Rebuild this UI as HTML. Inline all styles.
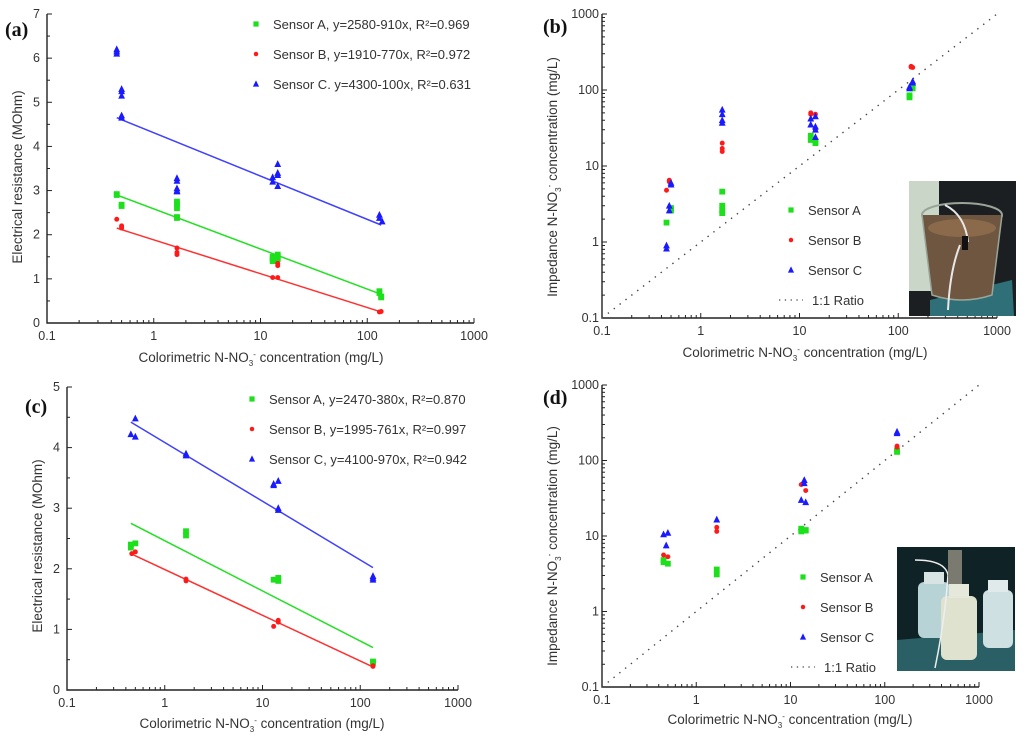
<!DOCTYPE html>
<html><head><meta charset="utf-8"><style>
body{margin:0;background:#fff;width:1024px;height:739px;overflow:hidden}
svg{display:block;font-family:"Liberation Sans",Arial,sans-serif}
</style></head><body>
<svg id="fig" width="1024" height="739" viewBox="0 0 1024 739" xmlns="http://www.w3.org/2000/svg">
 <g id="insets">
  <g>
   <rect x="909" y="181" width="107" height="135" fill="#1c1f22"/>
   <rect x="909" y="181" width="30" height="110" fill="#c9d6c8"/>
   <polygon points="930,300 1012,280 1014,316 930,316" fill="#2e6f78"/>
   <ellipse cx="962" cy="215" rx="40" ry="12" fill="none" stroke="#9aa59a" stroke-width="2"/>
   <path d="M922,215 L932,295 Q962,305 992,295 L1002,215" fill="#6e5640" stroke="#9aa59a" stroke-width="1.5"/>
   <ellipse cx="962" cy="228" rx="34" ry="9" fill="#8a6a4a"/>
   <path d="M945,205 Q965,215 968,242 M960,245 Q950,270 948,310" stroke="#e8e8e8" stroke-width="2" fill="none"/>
   <rect x="962" y="236" width="6" height="14" fill="#111"/>
  </g>
  <g>
   <rect x="897" y="547" width="118" height="124" fill="#0f2226"/>
   <polygon points="897,640 1015,630 1015,671 897,671" fill="#2a5f66"/>
   <rect x="918" y="582" width="32" height="56" rx="6" fill="#b7d3d6"/>
   <rect x="924" y="572" width="20" height="12" fill="#d8e4e4"/>
   <rect x="941" y="596" width="36" height="64" rx="6" fill="#dfe2cf"/>
   <rect x="949" y="584" width="20" height="14" fill="#e6e8dc"/>
   <rect x="983" y="590" width="30" height="58" rx="6" fill="#cfe0e2"/>
   <rect x="988" y="580" width="20" height="12" fill="#e0eaea"/>
   <path d="M915,560 Q945,560 948,575 Q945,620 935,668" stroke="#eee" stroke-width="1.5" fill="none"/>
   <rect x="948" y="550" width="14" height="34" fill="#7a7a70"/>
  </g>
 </g>
</svg>
<script>
// ---------- Panel (a) data ----------
const aAx=[0.45,0.45,0.5,0.5,1.65,1.65,1.65,1.65,1.65,13,13,13,14.5,14.5,14.5,130,130,135,135];
const aAy=[2.9,2.92,2.65,2.68,2.75,2.7,2.6,2.4,2.38,1.5,1.45,1.4,1.55,1.5,1.45,0.72,0.68,0.6,0.58];
const aBx=[0.45,0.5,0.5,0.5,1.65,1.65,1.65,13,14.5,14.5,14.5,130,135];
const aBy=[2.35,2.2,2.15,2.18,1.7,1.6,1.55,1.03,1.3,1.35,1.03,0.25,0.26];
const aCx=[0.45,0.45,0.45,0.5,0.5,0.5,0.5,0.5,1.65,1.65,1.65,1.65,1.65,13,13,14.5,14.5,14.5,14.5,130,130,138];
const aCy=[6.2,6.15,6.1,5.3,5.25,5.15,4.7,4.65,3.28,3.22,3.05,3.0,2.98,3.3,3.2,3.6,3.4,3.35,3.1,2.45,2.38,2.3];
const aFitX=[0.45,135];
const aFitA=[2.9,0.65];
const aFitB=[2.15,0.25];
const aFitC=[4.65,2.22];
const aLegend=["Sensor A, y=2580-910x, R²=0.969","Sensor B, y=1910-770x, R²=0.972","Sensor C. y=4300-100x, R²=0.631"];
const aYTicks=[0,1,2,3,4,5,6,7];
// ---------- Panel (b) data ----------
const bAx=[0.45,0.5,0.5,1.65,1.65,1.65,1.65,13,13,14.5,14.5,130,130,140];
const bAy=[1.8,2.8,2.6,4.6,3.0,2.6,2.4,25,22,21,20,85,80,105];
const bBx=[0.45,0.48,0.48,1.65,1.65,1.65,13,13,14.5,14.5,135,135,140];
const bBy=[4.8,6.5,6.2,20,17,15.5,50,48,48,30,205,200,198];
const bCx=[0.45,0.45,0.48,0.48,0.5,0.5,1.65,1.65,1.65,1.65,13,13,14.5,14.5,14.5,14.5,130,130,140,140];
const bCy=[0.9,0.82,3.0,2.6,6.0,5.7,55,48,40,37,42,35,33,30,24,45,110,105,130,125];
// ---------- Panel (c) data ----------
const cAx=[0.45,0.45,0.5,1.65,1.65,13,14.5,14.5,135,135];
const cAy=[2.35,2.4,2.42,2.62,2.55,1.82,1.85,1.8,0.45,0.47];
const cBx=[0.46,0.5,1.65,1.65,13,14.5,14.5,135,135];
const cBy=[2.25,2.28,1.83,1.8,1.05,1.15,1.12,0.4,0.39];
const cCx=[0.45,0.5,0.5,1.65,1.65,13,13,14.5,14.5,14.5,135,135,135];
const cCy=[4.22,4.48,4.18,3.9,3.87,3.4,3.38,3.45,3.0,2.97,1.88,1.82,1.85];
const cFitX=[0.45,135];
const cFitA=[2.75,0.7];
const cFitB=[2.25,0.38];
const cFitC=[4.42,2.02];
const cLegend=["Sensor A, y=2470-380x, R²=0.870","Sensor B, y=1995-761x, R²=0.997","Sensor C, y=4100-970x, R²=0.942"];
const cYTicks=[0,1,2,3,4,5];
// ---------- Panel (d) data ----------
const dAx=[0.45,0.45,0.5,1.65,1.65,13,13,14.5,14.5,135,135];
const dAy=[4.8,4.5,4.3,3.6,3.1,12.5,11.5,12,11.8,135,130];
const dBx=[0.45,0.5,1.65,1.65,13,14.5,135,135];
const dBy=[5.6,5.3,13,11.5,48,40,155,150];
const dCx=[0.45,0.48,0.5,1.65,13,14,14,14.5,135,135];
const dCy=[10.5,7.5,11,16.5,30,55,50,28,240,230];
// shared
const xDecades=[0.1,1,10,100,1000];
const xTickLabels=["0.1","1","10","100","1000"];
const ratioLine=[0.1,1000];
const logLegend=["Sensor A","Sensor B","Sensor C","1:1 Ratio"];

const NS="http://www.w3.org/2000/svg";
const svg=document.getElementById('fig');
const COL={A:"#1de01d",B:"#ff1a1a",C:"#1a1aff"};
function mk(tag,attrs,parent){const e=document.createElementNS(NS,tag);for(const k in attrs)e.setAttribute(k,attrs[k]);(parent||svg).appendChild(e);return e;}
function txt(s,attrs,parent){const e=mk('text',attrs,parent);e.textContent=s;return e;}
function marker(g,type,x,y,s){
 let e;
 if(type==='A'){e=mk('rect',{x:x-s,y:y-s,width:2*s,height:2*s,fill:COL.A},g);}
 else if(type==='B'){e=mk('circle',{cx:x,cy:y,r:s*0.85,fill:COL.B},g);}
 else {e=mk('polygon',{points:`${x},${y-s-1} ${x-s-0.5},${y+s} ${x+s+0.5},${y+s}`,fill:COL.C},g);}
 return e;
}
function panel(cfg){
 const g=mk('g',{});
 
 
 const lx=v=>cfg.x0+(Math.log10(v)+1)/4*(cfg.x1-cfg.x0);
 const ly=cfg.logY?(v=>cfg.y0-(Math.log10(v)+1)/4*(cfg.y0-cfg.y1)):(v=>cfg.y0-v/cfg.ymax*(cfg.y0-cfg.y1));
 const ax=mk('path',{d:`M${cfg.x0},${cfg.y1} V${cfg.y0} H${cfg.x1}`,stroke:"#222","stroke-width":1.4,fill:"none"},g);
 
 
 xDecades.forEach((d,i)=>{
  const X=lx(d);
  mk('line',{x1:X,x2:X,y1:cfg.y0,y2:cfg.y0-5,stroke:"#222"},g);
  const t=txt(xTickLabels[i],{x:X,y:cfg.y0+17,"text-anchor":"middle","font-size":12.5,fill:"#333"},g);
  
  
  if(i<4)for(let m=2;m<10;m++){const Xm=lx(d*m);mk('line',{x1:Xm,x2:Xm,y1:cfg.y0,y2:cfg.y0-3,stroke:"#222"},g);}
 });
 if(cfg.logY){
  xDecades.forEach((d,i)=>{
   const Y=ly(d);
   mk('line',{x1:cfg.x0,x2:cfg.x0+5,y1:Y,y2:Y,stroke:"#222"},g);
   const t=txt(xTickLabels[i],{x:cfg.x0-3,y:Y+4,"text-anchor":"end","font-size":12.5,fill:"#333"},g);
   
   
   if(i<4)for(let m=2;m<10;m++){const Ym=ly(d*m);mk('line',{x1:cfg.x0,x2:cfg.x0+3,y1:Ym,y2:Ym,stroke:"#222"},g);}
  });
 } else {
  cfg.yTicks.forEach((v,i)=>{
   const Y=ly(v);
   mk('line',{x1:cfg.x0,x2:cfg.x0+5,y1:Y,y2:Y,stroke:"#222"},g);
   const t=txt(String(v),{x:cfg.x0-7,y:Y+4,"text-anchor":"end","font-size":12.5,fill:"#333"},g);
   
   
   if(i<cfg.yTicks.length-1){const Ym=ly(v+0.5);mk('line',{x1:cfg.x0,x2:cfg.x0+3,y1:Ym,y2:Ym,stroke:"#222"},g);}
  });
 }
 if(cfg.logY){
  const r=mk('line',{x1:lx(ratioLine[0]),y1:ly(ratioLine[0]),x2:lx(ratioLine[1]),y2:ly(ratioLine[1]),stroke:"#444","stroke-width":1.4,"stroke-dasharray":"1.4 6"},g);
  
  
 }
 if(cfg.fits){
  ['A','B','C'].forEach((k,i)=>{
   const f=cfg.fits[i];
   const l=mk('line',{x1:lx(cfg.fitX[0]),y1:ly(f[0]),x2:lx(cfg.fitX[1]),y2:ly(f[1]),stroke:k==='A'?"#22e022":k==='B'?"#ff3030":"#4040ff","stroke-width":1.5},g);
   
   
  });
 }
 ['A','B','C'].forEach((k,i)=>{
  const sg=mk('g',{},g);
  
  
  const xs=cfg.pts[i][0],ys=cfg.pts[i][1];
  xs.forEach((xv,j)=>{
   const p=marker(sg,k,lx(xv),ly(ys[j]),2.9);
   
   
  });
 });
 const lg=mk('g',{},g);
 
 
 cfg.legend.forEach((s,i)=>{
  const Y=cfg.legY+i*cfg.legDy;
  if(i<3){marker(lg,'ABC'[i],cfg.legX,Y,2.6);}
  else{mk('line',{x1:cfg.legX-12,x2:cfg.legX+12,y1:Y,y2:Y,stroke:"#444","stroke-width":1.3,"stroke-dasharray":"1.3 4.5"},lg);}
  const t=txt(s,{x:cfg.legX+(i<3?17:21),y:Y+5,"font-size":cfg.legFs,fill:"#333"},lg);
  
  
 });
 const pl=txt('('+cfg.id+')',{x:cfg.labX,y:cfg.labY,"font-size":20,"font-weight":"bold","font-family":"Liberation Serif,serif",fill:"#111"},g);
 
 
 const xt=mk('text',{x:cfg.xtX,y:cfg.xtY,"text-anchor":"middle","font-size":13.5,fill:"#333"},g);
 xt.innerHTML='Colorimetric N-NO<tspan font-size="8" dy="4">3</tspan><tspan font-size="8" dy="-9">-</tspan><tspan dy="5"> concentration (mg/L)</tspan>';
 
 
 const yt=mk('text',{transform:`translate(${cfg.ytX},${cfg.ytY}) rotate(-90)`,"text-anchor":"middle","font-size":13.5,fill:"#333"},g);
 if(cfg.logY) yt.innerHTML='Impedance N-NO<tspan font-size="8" dy="4">3</tspan><tspan font-size="8" dy="-9">-</tspan><tspan dy="5"> concentration (mg/L)</tspan>';
 else yt.textContent='Electrical resistance (MOhm)';
 
 
}
panel({id:'a',x0:47,x1:474,y0:323,y1:14,ymax:7,yTicks:aYTicks,pts:[[aAx,aAy],[aBx,aBy],[aCx,aCy]],fitX:aFitX,fits:[aFitA,aFitB,aFitC],legend:aLegend,legX:256,legY:24,legDy:30,legFs:13,labX:5,labY:36,xtX:261,xtY:362,ytX:22,ytY:177});
panel({id:'b',x0:602,x1:997,y0:318,y1:14,logY:true,pts:[[bAx,bAy],[bBx,bBy],[bCx,bCy]],legend:logLegend,legX:791,legY:210,legDy:30,legFs:13,labX:543,labY:33,xtX:805,xtY:357,ytX:557,ytY:177});
panel({id:'c',x0:67,x1:458,y0:690,y1:387,ymax:5,yTicks:cYTicks,pts:[[cAx,cAy],[cBx,cBy],[cCx,cCy]],fitX:cFitX,fits:[cFitA,cFitB,cFitC],legend:cLegend,legX:252,legY:399,legDy:30,legFs:13,labX:25,labY:413,xtX:262,xtY:728,ytX:42,ytY:546});
panel({id:'d',x0:602,x1:979,y0:687,y1:385,logY:true,pts:[[dAx,dAy],[dBx,dBy],[dCx,dCy]],legend:logLegend,legX:803,legY:577,legDy:30,legFs:13,labX:543,labY:404,xtX:790,xtY:724,ytX:557,ytY:546});
svg.appendChild(document.getElementById('insets'));
</script>
</body></html>
